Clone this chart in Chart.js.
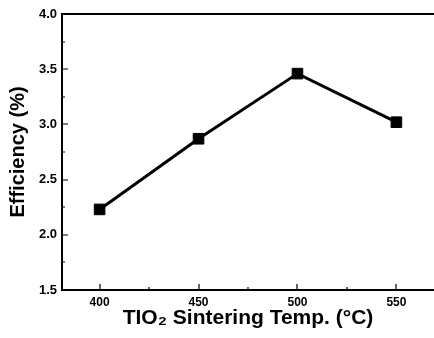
<!DOCTYPE html>
<html>
<head>
<meta charset="utf-8">
<script src="https://cdn.jsdelivr.net/npm/chart.js@4.4.1/dist/chart.umd.min.js"></script>
<style>
html,body{margin:0;padding:0;background:#fff;overflow:hidden;}
#wrap{width:434px;height:338px;}
</style>
</head>
<body>
<div id="wrap"><canvas id="chart" width="434" height="338"></canvas></div>
<script>
// sintering temperature (C) vs cell efficiency (%)
const temps = [400, 450, 500, 550];
const efficiency = [2.23, 2.87, 3.46, 3.02];
const xTicks = [400, 450, 500, 550];
const xMinor = [425, 475, 525];
const yTicks = [1.5, 2.0, 2.5, 3.0, 3.5, 4.0];
const yMinor = [1.75, 2.25, 2.75, 3.25, 3.75];

const FONT = '"Liberation Sans", Arial, Helvetica, sans-serif';

// frame (left, bottom, top) with inward ticks
const framePlugin = {
  id: 'frame',
  afterDatasetsDraw(chart){
    const {ctx, chartArea:a, scales:{x, y}} = chart;
    ctx.save();
    ctx.strokeStyle = '#000';
    ctx.lineWidth = 2;
    ctx.beginPath();
    ctx.moveTo(a.right + 2, a.top);
    ctx.lineTo(a.left, a.top);
    ctx.lineTo(a.left, a.bottom);
    ctx.lineTo(a.right + 2, a.bottom);
    ctx.stroke();
    ctx.lineWidth = 1.2;
    ctx.beginPath();
    yTicks.forEach(v => { const p = Math.round(y.getPixelForValue(v)); ctx.moveTo(a.left, p); ctx.lineTo(a.left + 6, p); });
    yMinor.forEach(v => { const p = Math.round(y.getPixelForValue(v)); ctx.moveTo(a.left, p); ctx.lineTo(a.left + 3, p); });
    xTicks.forEach(v => { const p = Math.round(x.getPixelForValue(v)); ctx.moveTo(p, a.bottom); ctx.lineTo(p, a.bottom - 6); });
    xMinor.forEach(v => { const p = Math.round(x.getPixelForValue(v)); ctx.moveTo(p, a.bottom); ctx.lineTo(p, a.bottom - 3); });
    ctx.stroke();
    ctx.restore();
  }
};

new Chart(document.getElementById('chart'), {
  type: 'line',
  data: {
    datasets: [{
      data: temps.map((t, i) => ({x: t, y: efficiency[i]})),
      borderColor: '#000',
      backgroundColor: '#000',
      borderWidth: 3,
      pointStyle: 'rect',
      pointRadius: 7.5,
      pointBorderWidth: 1,
      tension: 0
    }]
  },
  options: {
    responsive: false,
    animation: false,
    layout: {autoPadding: false, padding: {top: 14, right: 0, left: 0, bottom: 0}},
    plugins: {legend: {display: false}, tooltip: {enabled: false}},
    scales: {
      x: {
        type: 'linear',
        min: 381,
        max: 569,
        afterBuildTicks: s => { s.ticks = xTicks.map(v => ({value: v})); },
        afterFit: s => { s.height = 48; s.paddingLeft = 0; s.paddingRight = 0; },
        grid: {display: false, drawTicks: false},
        border: {display: false},
        ticks: {color: '#000', padding: 5, font: {family: FONT, size: 12, weight: 'bold'}, callback: v => String(v)},
        title: {display: true, text: 'TIO\u2082 Sintering Temp. (\u00b0C)', color: '#000',
          font: {family: FONT, size: 21, weight: 'bold'}, padding: {top: 0, bottom: 7}}
      },
      y: {
        type: 'linear',
        min: 1.5,
        max: 4.0,
        afterBuildTicks: s => { s.ticks = yTicks.map(v => ({value: v})); },
        afterFit: s => { s.width = 62; s.paddingTop = 0; s.paddingBottom = 0; },
        grid: {display: false, drawTicks: false},
        border: {display: false},
        ticks: {color: '#000', padding: 5, font: {family: FONT, size: 13, weight: 'bold'}, callback: v => Number(v).toFixed(1)},
        title: {display: true, text: 'Efficiency (%)', color: '#000',
          font: {family: FONT, size: 20, weight: 'bold'}, padding: {top: 6, bottom: 0}}
      }
    }
  },
  plugins: [framePlugin]
});
</script>
</body>
</html>
